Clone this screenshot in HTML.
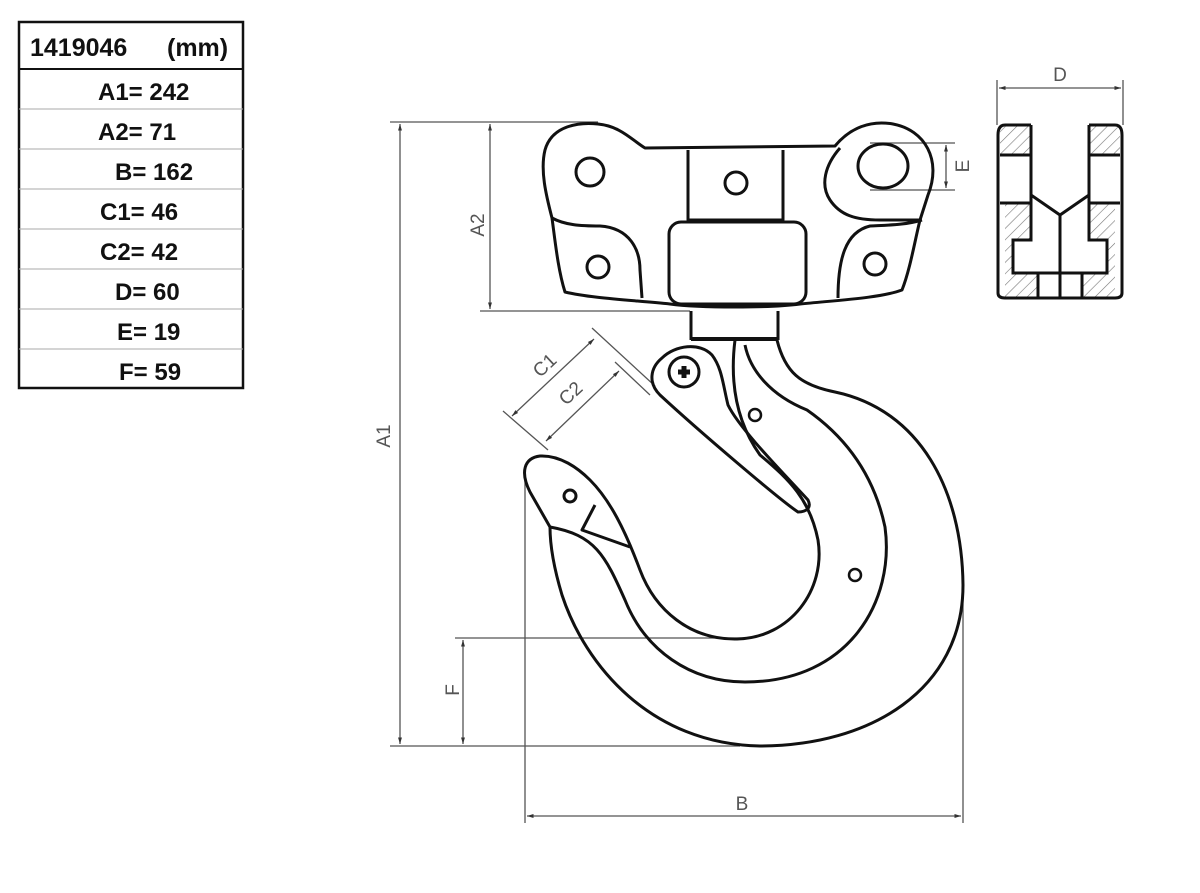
<!DOCTYPE html>
<html><head><meta charset="utf-8"><style>
html,body{margin:0;padding:0;background:#fff;}
svg{display:block;}
.t{font-family:"Liberation Sans",Arial,sans-serif;font-weight:bold;font-size:24px;fill:#111;}
.d{font-family:"Liberation Sans",Arial,sans-serif;font-size:19px;fill:#555;}
</style></head><body>
<svg width="1200" height="893" viewBox="0 0 1200 893" xmlns="http://www.w3.org/2000/svg">
<defs>
<marker id="ar" viewBox="0 0 10 10" refX="10" refY="5" markerWidth="8" markerHeight="5" orient="auto-start-reverse"><path d="M0,2 L10,5 L0,8 z" fill="#333"/></marker>
<pattern id="h" width="8" height="8" patternUnits="userSpaceOnUse" patternTransform="rotate(45)"><line x1="0" y1="0" x2="0" y2="8" stroke="#777" stroke-width="1.2"/></pattern>
</defs>
<!-- table -->
<rect x="19" y="22" width="224" height="366" fill="none" stroke="#111" stroke-width="2.5"/>
<line x1="19" y1="69" x2="243" y2="69" stroke="#111" stroke-width="2"/>
<g stroke="#aaa" stroke-width="1">
<line x1="19" y1="109" x2="243" y2="109"/><line x1="19" y1="149" x2="243" y2="149"/><line x1="19" y1="189" x2="243" y2="189"/><line x1="19" y1="229" x2="243" y2="229"/><line x1="19" y1="269" x2="243" y2="269"/><line x1="19" y1="309" x2="243" y2="309"/><line x1="19" y1="349" x2="243" y2="349"/>
</g>
<text class="t" x="30" y="56" style="font-size:25px">1419046</text><text class="t" x="167" y="56" style="font-size:25px">(mm)</text>
<text class="t" x="98" y="100">A1= 242</text>
<text class="t" x="98" y="140">A2= 71</text>
<text class="t" x="115" y="180">B= 162</text>
<text class="t" x="100" y="220">C1= 46</text>
<text class="t" x="100" y="260">C2= 42</text>
<text class="t" x="115" y="300">D= 60</text>
<text class="t" x="117" y="340">E= 19</text>
<text class="t" x="119" y="380">F= 59</text>

<!-- dimension lines -->
<g stroke="#555" stroke-width="1.3" fill="none">
<line x1="390" y1="122" x2="598" y2="122"/>
<line x1="390" y1="746" x2="740" y2="746"/>
<line x1="400" y1="124" x2="400" y2="744" marker-start="url(#ar)" marker-end="url(#ar)"/>
<line x1="480" y1="311" x2="690" y2="311"/>
<line x1="490" y1="124" x2="490" y2="309" marker-start="url(#ar)" marker-end="url(#ar)"/>
<line x1="455" y1="638" x2="745" y2="638"/>
<line x1="463" y1="640" x2="463" y2="744" marker-start="url(#ar)" marker-end="url(#ar)"/>
<line x1="525" y1="470" x2="525" y2="823"/>
<line x1="963" y1="595" x2="963" y2="823"/>
<line x1="527" y1="816" x2="961" y2="816" marker-start="url(#ar)" marker-end="url(#ar)"/>
<line x1="592" y1="328" x2="655" y2="386"/>
<line x1="503" y1="411" x2="548" y2="450"/>
<line x1="512" y1="416" x2="594" y2="339" marker-start="url(#ar)" marker-end="url(#ar)"/>
<line x1="615" y1="362" x2="650" y2="395"/>
<line x1="546" y1="441" x2="619" y2="371" marker-start="url(#ar)" marker-end="url(#ar)"/>
<line x1="870" y1="143" x2="955" y2="143"/>
<line x1="870" y1="190" x2="955" y2="190"/>
<line x1="946" y1="145" x2="946" y2="188" marker-start="url(#ar)" marker-end="url(#ar)"/>
<line x1="997" y1="80" x2="997" y2="125"/>
<line x1="1123" y1="80" x2="1123" y2="125"/>
<line x1="999" y1="88" x2="1121" y2="88" marker-start="url(#ar)" marker-end="url(#ar)"/>
</g>
<text class="d" transform="translate(390,436) rotate(-90)" text-anchor="middle">A1</text>
<text class="d" transform="translate(484,225) rotate(-90)" text-anchor="middle">A2</text>
<text class="d" transform="translate(459,690) rotate(-90)" text-anchor="middle">F</text>
<text class="d" transform="translate(969,166) rotate(-90)" text-anchor="middle">E</text>
<text class="d" x="742" y="810" text-anchor="middle">B</text>
<text class="d" x="1060" y="81" text-anchor="middle">D</text>
<text class="d" transform="translate(549,370) rotate(-43)" text-anchor="middle">C1</text>
<text class="d" transform="translate(575,398) rotate(-43)" text-anchor="middle">C2</text>

<!-- top block -->
<g stroke="#111" stroke-width="3" fill="none" stroke-linejoin="round">
<path d="M552,218 C546,195 540,170 545,150 C552,125 580,122 598,124 C620,126 632,140 645,148 L835,146 C850,128 870,120 893,124 C925,130 942,160 928,195 L920,220 C915,240 910,270 902,290 C880,298 840,300 800,304 C770,308 700,308 670,304 C630,300 590,298 565,292 C558,270 555,240 552,218 Z"/>
<path d="M552,218 C565,225 580,226 600,226 C630,228 640,250 640,270 L642,298"/>
<path d="M922,220 C905,225 890,225 870,226 C845,232 838,260 838,298"/>
<path d="M840,148 C825,165 820,185 830,200 C840,215 855,220 880,220 L920,220"/>
<path d="M688,150 L688,220 L783,220 L783,150"/>
<rect x="669" y="222" width="137" height="82" rx="12"/>
<circle cx="590" cy="172" r="14"/>
<circle cx="736" cy="183" r="11"/>
<ellipse cx="883" cy="166" rx="25" ry="22"/>
<circle cx="598" cy="267" r="11"/>
<circle cx="875" cy="264" r="11"/>
<!-- neck -->
<path d="M691,311 L691,340 M778,311 L778,340"/>
<line x1="691" y1="339" x2="778" y2="339" stroke-width="4"/>
<!-- hook outer + tip + throat -->
<path d="M777,340 C785,372 800,385 835,392 C920,410 962,490 963,585 C963,690 870,746 760,746 C650,744 585,665 562,595 C553,565 550,545 550,527 L530,492 C520,472 524,458 540,456 C560,455 578,468 590,480 C610,500 625,530 640,570 C655,610 690,640 737,639 C790,638 826,590 818,540 C810,500 790,480 760,455 C735,420 730,380 735,340"/>
<!-- middle band -->
<path d="M745,345 C750,370 770,395 807,410 C850,440 875,480 885,527 C895,600 850,682 745,682 C690,682 645,650 625,600 C605,555 595,535 550,527"/>
<!-- latch -->
<path d="M662,358 C675,345 700,342 712,355 C722,368 723,385 728,405 C740,430 790,480 808,500 C812,508 806,512 798,512 C780,500 700,432 660,395 C648,383 650,368 662,358 Z"/>
<circle cx="684" cy="372" r="15"/>
<!-- tip latch details -->
<circle cx="570" cy="496" r="6"/>
<path d="M595,505 L582,530 L630,547"/>
</g>
<path d="M678,372 h12 M684,366 v12" stroke="#111" stroke-width="5"/>
<circle cx="755" cy="415" r="6" fill="none" stroke="#111" stroke-width="2.5"/>
<circle cx="855" cy="575" r="6" fill="none" stroke="#111" stroke-width="2.5"/>

<!-- side section view -->
<g stroke="#111" stroke-width="3" fill="none">
<rect x="1000" y="125" width="31" height="30" fill="url(#h)" stroke="none"/>
<rect x="1089" y="125" width="31" height="30" fill="url(#h)" stroke="none"/>
<path d="M1000,203 H1031 V240 H1013 V273 H1038 V298 H1005 V203 Z" fill="url(#h)" stroke="none"/>
<path d="M1120,203 H1089 V240 H1107 V273 H1082 V298 H1115 V203 Z" fill="url(#h)" stroke="none"/>
<path d="M1031,125 H1005 Q998,125 998,135 V293 Q998,298 1005,298 H1115 Q1122,298 1122,293 V135 Q1122,125 1115,125 H1089"/>
<path d="M1031,125 V240 H1013 V273 H1107 V240 H1089 V125"/>
<path d="M1000,155 H1031 M1089,155 H1120 M1000,203 H1031 M1089,203 H1120"/>
<path d="M1031,195 L1060,215 L1089,195 M1060,215 V298 M1038,273 V298 M1082,273 V298"/>
</g>
</svg>
</body></html>
